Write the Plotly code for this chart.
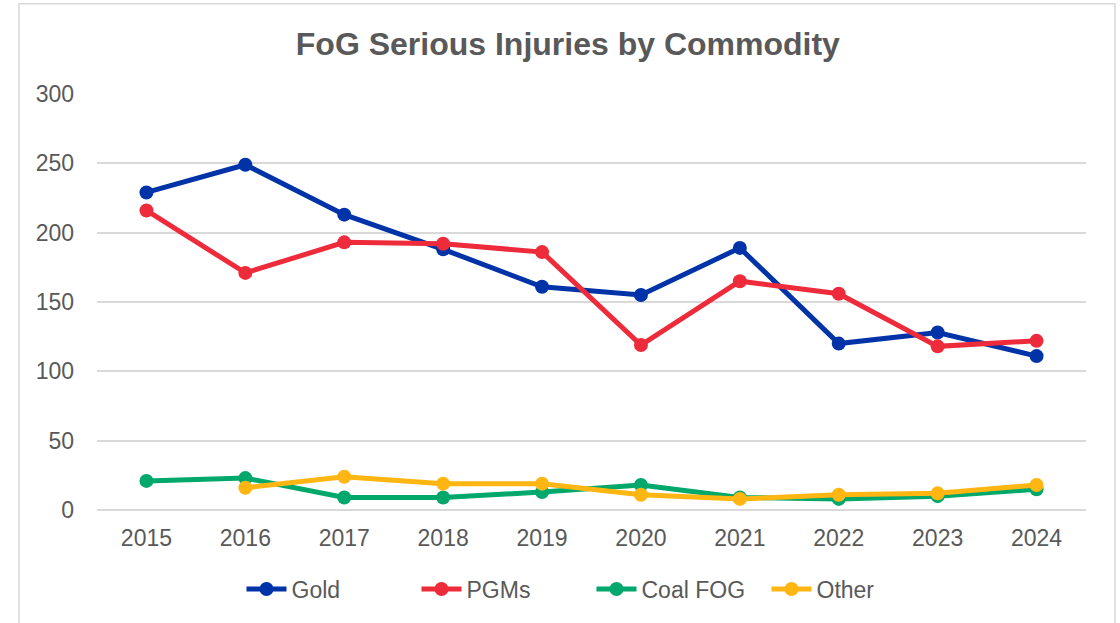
import plotly.graph_objects as go

years = ["2015", "2016", "2017", "2018", "2019", "2020", "2021", "2022", "2023", "2024"]
gold = [229, 249, 213, 188, 161, 155, 189, 120, 128, 111]
pgms = [216, 171, 193, 192, 186, 119, 165, 156, 118, 122]
coal_fog = [21, 23, 9, 9, 13, 18, 9, 8, 10, 15]
other_years = ["2016", "2017", "2018", "2019", "2020", "2021", "2022", "2023", "2024"]
other = [16, 24, 19, 19, 11, 8, 11, 12, 18]

series = [
    ("Gold", years, gold, "#0033A8"),
    ("PGMs", years, pgms, "#EE2B3B"),
    ("Coal FOG", years, coal_fog, "#00A86B"),
    ("Other", other_years, other, "#FFB612"),
]

fig = go.Figure()
for name, xs, ys, col in series:
    fig.add_trace(go.Scatter(
        x=xs, y=ys, name=name, mode="lines+markers",
        line=dict(color=col, width=5),
        marker=dict(color=col, size=14),
    ))

fig.update_layout(
    width=1120, height=623,
    margin=dict(l=97, r=34, t=94, b=113),
    paper_bgcolor="white", plot_bgcolor="white",
    font=dict(family="Liberation Sans, Arial, sans-serif", color="#595959", size=23),
    title=dict(text="<b>FoG Serious Injuries by Commodity</b>", x=0.507, xanchor="center",
               y=0.929, yanchor="middle",
               font=dict(size=32, color="#595959")),
    xaxis=dict(type="category", categoryorder="array", categoryarray=years,
               range=[-0.5, 9.5], showgrid=False, showline=False, ticks="",
               ticklabelstandoff=12,
               tickfont=dict(size=23, color="#595959")),
    yaxis=dict(range=[0, 300], dtick=50, showgrid=True, gridcolor="#D9D9D9", gridwidth=1.5,
               zeroline=True, zerolinecolor="#D9D9D9", zerolinewidth=1.5,
               showline=False, ticks="", ticklabelstandoff=22,
               tickfont=dict(size=23, color="#595959")),
    legend=dict(orientation="h", x=0.5, xanchor="center", y=-0.19, yanchor="middle",
                font=dict(size=23, color="#595959"), itemwidth=40, traceorder="normal",
                entrywidth=120, entrywidthmode="pixels"),
    showlegend=True,
    shapes=[dict(type="rect", xref="paper", yref="paper",
                 x0=-0.0789, x1=1.0293, y0=-0.3, y1=1.217,
                 line=dict(color="#D9D9D9", width=1.5), fillcolor="rgba(0,0,0,0)", layer="below")],
)

fig.write_html("out.html", post_script="document.body.style.margin='0';",
               config={"displayModeBar": False})
